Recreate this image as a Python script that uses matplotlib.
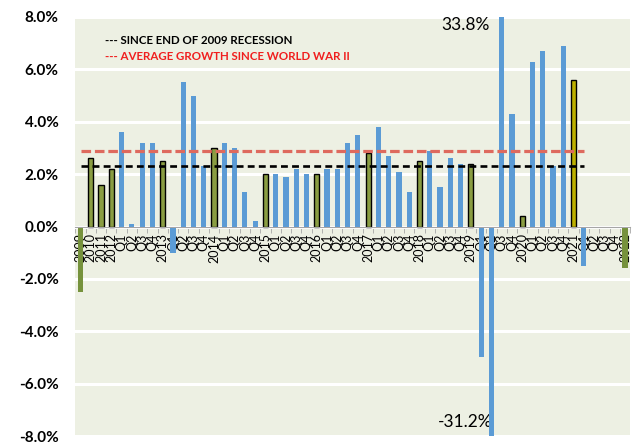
import matplotlib
matplotlib.use("Agg")
import matplotlib.pyplot as plt
import numpy as np

plt.rcParams['font.family'] = ['Lato', 'DejaVu Sans']

# annual bars before the quarterly breakdown starts
early_years = ['2009', '2010', '2011', '2012']
early_values = [-2.5, 2.6, 1.6, 2.2]

# quarterly growth (Q1..Q4) and annual figure for each later year
years = ['2013', '2014', '2015', '2016', '2017', '2018', '2019', '2020', '2021', '2022']
quarters = ['Q1', 'Q2', 'Q3', 'Q4']
q_values = [
    [3.6, 0.1, 3.2, 3.2],
    [-1.0, 5.5, 5.0, 2.3],
    [3.2, 3.0, 1.3, 0.2],
    [2.0, 1.9, 2.2, 2.0],
    [2.2, 2.2, 3.2, 3.5],
    [3.8, 2.7, 2.1, 1.3],
    [2.9, 1.5, 2.6, 2.4],
    [-5.0, -31.2, 33.8, 4.3],
    [6.3, 6.7, 2.3, 6.9],
    [-1.5, np.nan, np.nan, np.nan],
]
annual_values = [2.5, 3.0, 2.0, 2.0, 2.8, 2.5, 2.4, 0.4, 5.6, -1.6]

avg_since_2009 = 2.3
avg_since_ww2 = 2.88
line_end = 49  # category where the average lines stop

# build category sequence
labels, values, kinds = [], [], []
for y, v in zip(early_years, early_values):
    labels.append(y); values.append(v); kinds.append('annual')
for y, qs, a in zip(years, q_values, annual_values):
    for q, v in zip(quarters, qs):
        labels.append(q); values.append(v); kinds.append('quarter')
    labels.append(y); values.append(a); kinds.append('annual')
kinds[0] = 'plain'
kinds[-1] = 'plain'
kinds[labels.index('2021')] = 'highlight'

x = np.arange(len(labels))
values = np.array(values)

fig = plt.figure(figsize=(6.41, 4.45), dpi=100)
ax = fig.add_axes([0.1176, 0.0202, 0.983 - 0.1176, 0.9618 - 0.0202])
ax.set_facecolor('#EDF0E3')
ax.set_axisbelow(True)

colors = {'quarter': '#5B9BD5', 'annual': '#8A9D42', 'plain': '#76923C', 'highlight': '#BDB000'}
for kind in ['quarter', 'annual', 'plain', 'highlight']:
    m = np.array([k == kind for k in kinds])
    edge = 'black' if kind in ('annual', 'highlight') else 'none'
    ax.bar(x[m], values[m], width=0.5, color=colors[kind], edgecolor=edge,
           linewidth=1.0, zorder=2)

lx = np.arange(0, line_end + 1)
ax.plot(lx, np.full(len(lx), avg_since_ww2), color='#DE6A5E', lw=2.3,
        dashes=(3, 1.2), zorder=4)
ax.plot(lx, np.full(len(lx), avg_since_2009), color='black', lw=1.9,
        dashes=(2.6, 1.6), zorder=4)

ax.set_xlim(-0.5, len(labels) - 0.5)
ax.set_ylim(-8, 8)
ax.set_yticks(np.arange(-8, 9, 2))
ax.set_yticklabels(['%.1f%%' % t for t in np.arange(-8, 9, 2)],
                   fontsize=11, fontweight='bold')
ax.tick_params(axis='y', length=0, pad=12)
ax.grid(axis='y', color='white', lw=2.2)

for s in ['left', 'right', 'top']:
    ax.spines[s].set_visible(False)
ax.spines['bottom'].set_position(('data', 0))
ax.spines['bottom'].set_color('#A6A6A6')
ax.spines['bottom'].set_zorder(3)
ax.set_xticks(x)
ax.set_xticklabels(labels, rotation=90, fontsize=9, va='top')
ax.set_xticks(np.arange(-0.5, len(labels), 1), minor=True)
ax.tick_params(axis='x', which='major', length=0, pad=5)
ax.tick_params(axis='x', which='minor', length=4, color='#A6A6A6', direction='out')

i_up = int(np.nanargmax(values))
i_dn = int(np.nanargmin(values))
ax.text(i_up - 3.5, 7.68, '%.1f%%' % values[i_up], fontsize=12.5,
        ha='center', va='center', zorder=5)
ax.text(i_dn - 2.6, -7.45, '%.1f%%' % values[i_dn], fontsize=12.5,
        ha='center', va='center', zorder=1)

ax.text(0.053, 0.943, '--- SINCE END OF 2009 RECESSION', transform=ax.transAxes,
        fontsize=8.3, fontweight='bold', color='black', va='center')
ax.text(0.053, 0.905, '--- AVERAGE GROWTH SINCE WORLD WAR II', transform=ax.transAxes,
        fontsize=8.3, fontweight='bold', color='#F01E1E', va='center')

fig.savefig('out.png', dpi=100)
